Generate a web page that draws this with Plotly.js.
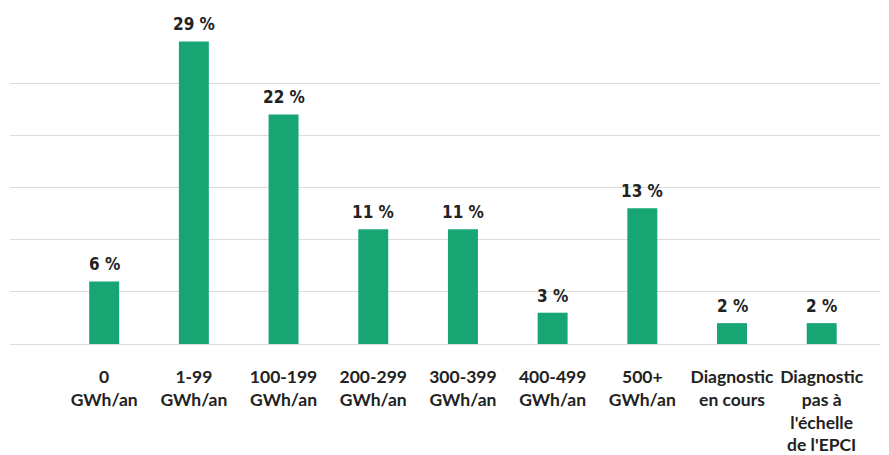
<!DOCTYPE html>
<html><head><meta charset="utf-8">
<script src="https://cdn.plot.ly/plotly-3.0.1.min.js"></script>
<style>html,body{margin:0;padding:0;background:#fff}#chart{width:889px;height:455px}</style>
</head><body><div id="chart"></div>
<script>
const categories = ["0<br>GWh/an","1-99<br>GWh/an","100-199<br>GWh/an","200-299<br>GWh/an","300-399<br>GWh/an","400-499<br>GWh/an","500+<br>GWh/an","Diagnostic<br>en cours","Diagnostic<br>pas à<br>l'échelle<br>de l'EPCI"];
const values = [6, 29, 22, 11, 11, 3, 13, 2, 2];
const valueLabels = values.map(v => v + " %");
const xIdx = categories.map((c, i) => i);

const labelFont = {family: "DejaVu Sans Condensed, sans-serif", size: 17, color: "#222", weight: "bold"};

Plotly.newPlot("chart", [{
  type: "bar",
  x: xIdx,
  y: values,
  marker: {color: "#17a673"},
  width: 0.334,
  hoverinfo: "none"
}], {
  width: 889, height: 455,
  margin: {l: 10, r: 9, t: 31, b: 111},
  paper_bgcolor: "#fff", plot_bgcolor: "#fff",
  showlegend: false,
  annotations: xIdx.map(i => ({
    x: i, y: values[i], xref: "x", yref: "y",
    text: valueLabels[i], showarrow: false,
    yanchor: "bottom", yshift: 5, font: labelFont
  })),
  xaxis: {
    range: [-1.05, 8.65],
    tickmode: "array", tickvals: xIdx, ticktext: categories,
    ticks: "outside", ticklen: 17, tickcolor: "rgba(0,0,0,0)",
    showgrid: false, zeroline: false, showline: false,
    tickfont: {family: "Lato, sans-serif", size: 17.5, color: "#222", weight: "bold"}
  },
  yaxis: {
    range: [0, 30], dtick: 5, showticklabels: false,
    showgrid: true, gridcolor: "#dcdcdc", gridwidth: 1,
    zeroline: true, zerolinecolor: "#dcdcdc", zerolinewidth: 1
  }
}, {staticPlot: true});
</script></body></html>
